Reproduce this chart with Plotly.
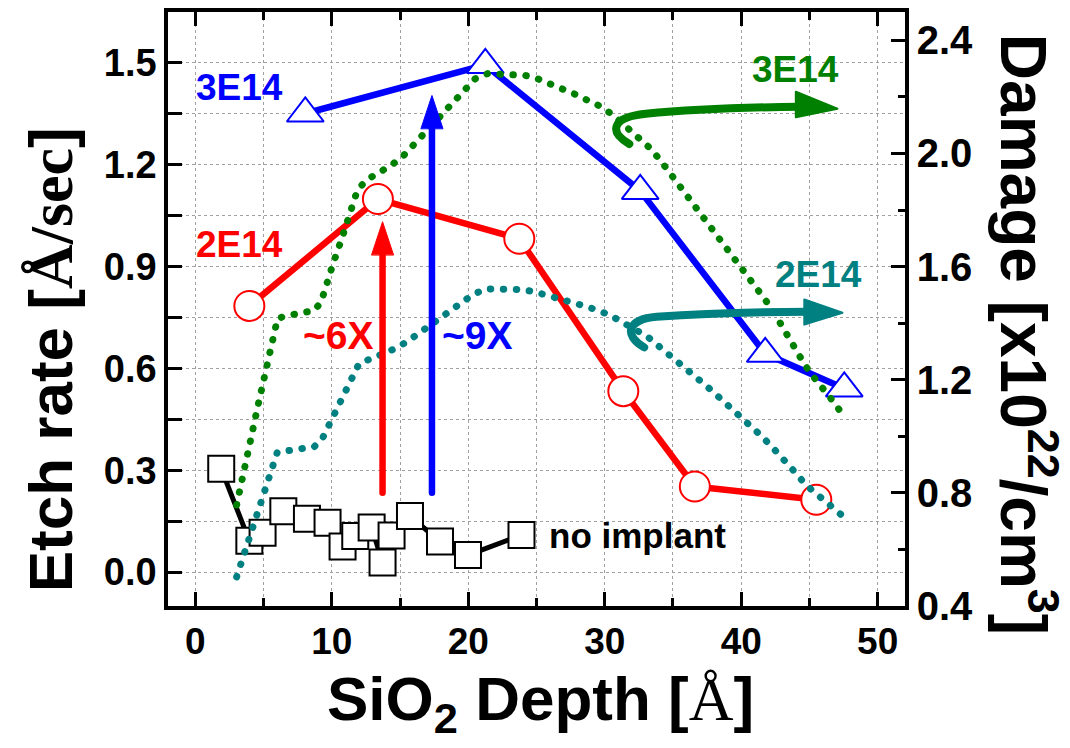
import plotly.graph_objects as go

# ---- etch rate (left axis) ----
DEPTH_3E14 = [8.06, 21.25, 32.6, 41.76, 47.55]
ETCH_3E14 = [1.351, 1.494, 1.123, 0.643, 0.541]

DEPTH_2E14 = [3.96, 13.38, 23.74, 31.36, 36.6, 45.5]
ETCH_2E14 = [0.784, 1.099, 0.982, 0.533, 0.252, 0.213]

DEPTH_NONE = [1.90, 3.96, 4.93, 6.45, 8.18, 9.69, 10.79, 11.72, 12.92, 13.72,
              14.38, 15.73, 17.93, 19.98, 23.9]
ETCH_NONE = [0.304, 0.092, 0.116, 0.179, 0.157, 0.145, 0.075, 0.106, 0.131, 0.028,
             0.108, 0.165, 0.090, 0.050, 0.109]

# ---- damage profiles (right axis) ----
DMG_DEPTH_3E14 = [3.03, 3.39, 3.83, 4.23, 4.59, 5.00, 5.40, 5.81, 6.03, 6.89, 7.79, 8.72,
                  9.21, 9.50, 10.06, 10.72, 11.33, 11.89, 12.58, 13.48, 14.41, 15.31,
                  16.21, 18.0, 18.85, 19.66, 20.51, 21.41, 22.32, 23.22, 24.15, 25.08,
                  26.0, 26.91, 27.84, 28.74, 29.67, 30.6, 31.55, 32.4, 33.31, 34.04,
                  34.78, 35.51, 36.24, 36.92, 37.6, 38.31, 38.99, 39.65, 40.34, 40.98,
                  41.63, 42.25, 42.78, 43.32, 43.88, 44.42, 44.98, 45.66, 46.45, 47.18]
DMG_3E14 = [0.757, 0.845, 0.933, 1.020, 1.108, 1.196, 1.285, 1.373, 1.417, 1.428, 1.435,
            1.445, 1.474, 1.521, 1.605, 1.697, 1.784, 1.872, 1.907, 1.933, 1.960, 1.995,
            2.040, 2.130, 2.173, 2.215, 2.264, 2.282, 2.282, 2.280, 2.276, 2.264, 2.247,
            2.229, 2.209, 2.188, 2.167, 2.136, 2.095, 2.060, 2.019, 1.978, 1.931, 1.889,
            1.843, 1.800, 1.755, 1.711, 1.668, 1.624, 1.580, 1.535, 1.491, 1.450, 1.404,
            1.360, 1.316, 1.272, 1.229, 1.184, 1.141, 1.094]

DMG_DEPTH_2E14 = [3.03, 3.32, 3.61, 3.90, 4.20, 4.49, 4.81, 5.11, 5.40, 5.71, 6.01, 6.91,
                  7.82, 8.72, 9.33, 9.77, 10.21, 10.67, 11.14, 11.55, 12.01, 12.92, 13.85,
                  14.78, 15.68, 16.61, 17.56, 18.44, 19.39, 20.31, 21.25, 22.15, 23.08,
                  23.98, 24.91, 25.81, 26.74, 27.64, 28.57, 29.5, 30.4, 31.3, 33.14, 34.07,
                  35.02, 35.95, 36.85, 37.78, 38.68, 39.61, 40.51, 41.44, 42.32, 43.2,
                  43.96, 44.74, 45.64, 46.57, 47.49]
DMG_2E14 = [0.503, 0.546, 0.591, 0.634, 0.678, 0.723, 0.766, 0.813, 0.854, 0.901, 0.944,
            0.950, 0.956, 0.963, 0.994, 1.039, 1.082, 1.127, 1.170, 1.215, 1.258, 1.275,
            1.295, 1.313, 1.340, 1.372, 1.404, 1.436, 1.466, 1.500, 1.521, 1.521, 1.521,
            1.519, 1.510, 1.498, 1.488, 1.477, 1.460, 1.445, 1.428, 1.403, 1.352, 1.314,
            1.278, 1.240, 1.202, 1.164, 1.126, 1.085, 1.042, 1.003, 0.959, 0.916, 0.872,
            0.828, 0.790, 0.752, 0.716]

BLUE = "#0000FF"
RED = "#FF0000"
GREEN = "#008000"
TEAL = "#008080"
SANS = "Liberation Sans, Arial, sans-serif"

fig = go.Figure()

fig.add_trace(go.Scatter(
    x=DEPTH_NONE, y=ETCH_NONE, mode="lines+markers", name="no implant",
    line=dict(color="black", width=5),
    marker=dict(symbol="square", size=26, color="white", line=dict(color="black", width=2)),
))
fig.add_trace(go.Scatter(
    x=DEPTH_2E14, y=ETCH_2E14, mode="lines+markers", name="2E14",
    line=dict(color=RED, width=6.5),
    marker=dict(symbol="circle", size=30, color="white", line=dict(color=RED, width=2)),
))
fig.add_trace(go.Scatter(
    x=DEPTH_3E14, y=ETCH_3E14, mode="lines+markers", name="3E14",
    line=dict(color=BLUE, width=6.5),
    marker=dict(symbol="triangle-up", size=32, color="white", line=dict(color=BLUE, width=2)),
))

dot_dash = "0.5px,12.5px"
fig.add_trace(go.Scatter(
    x=DMG_DEPTH_3E14, y=DMG_3E14, mode="lines", yaxis="y2", name="damage 3E14",
    line=dict(color=GREEN, width=7, dash=dot_dash),
))
fig.add_trace(go.Scatter(
    x=DMG_DEPTH_2E14, y=DMG_2E14, mode="lines", yaxis="y2", name="damage 2E14",
    line=dict(color=TEAL, width=7, dash=dot_dash),
))

# ---- vertical "enhancement" arrows: (x, start, tip, colour) ----
UP_ARROWS = [(13.72, 0.234, 1.032, RED), (17.34, 0.234, 1.404, BLUE)]
HEAD_HALF_W = 0.8     # x units
HEAD_LEN = 0.097      # etch-rate units
shapes = []
for ax_x, y0, tip, col in UP_ARROWS:
    shapes.append(dict(type="line", xref="x", yref="y", x0=ax_x, x1=ax_x, y0=y0,
                       y1=tip - HEAD_LEN + 0.01, line=dict(color=col, width=6.5)))
    shapes.append(dict(type="path", xref="x", yref="y",
                       path=f"M {ax_x - HEAD_HALF_W},{tip - HEAD_LEN} L {ax_x},{tip} "
                            f"L {ax_x + HEAD_HALF_W},{tip - HEAD_LEN} Z",
                       fillcolor=col, line=dict(color=col, width=1)))

# ---- hooked arrows pointing to the right-hand (damage) axis ----
HOOKS = [
    (GREEN, "M 31.8,1.261 C 30.2,1.30 30.6,1.34 33.0,1.350 Q 37.5,1.368 44.4,1.371",
     (47.05, 1.365), (44.0, 1.415), (44.0, 1.340)),
    (TEAL, "M 32.89,0.662 C 31.3,0.70 31.7,0.745 33.8,0.752 Q 38.5,0.765 44.9,0.767",
     (47.42, 0.764), (44.62, 0.803), (44.62, 0.729)),
]
for col, p, tip, b1, b2 in HOOKS:
    shapes.append(dict(type="path", xref="x", yref="y", path=p,
                       line=dict(color=col, width=8)))
    shapes.append(dict(type="path", xref="x", yref="y",
                       path=f"M {b1[0]},{b1[1]} L {tip[0]},{tip[1]} L {b2[0]},{b2[1]} Z",
                       fillcolor=col, line=dict(color=col, width=2)))
fig.update_layout(shapes=shapes)

# ---- text labels ----
LABELS = [
    ("3E14", 3.27, 1.427, BLUE, 37, "center"),
    ("2E14", 3.25, 0.964, RED, 37, "center"),
    ("~6X", 10.48, 0.696, RED, 39, "center"),
    ("~9X", 20.66, 0.696, BLUE, 39, "center"),
    ("3E14", 44.0, 1.480, GREEN, 37, "center"),
    ("2E14", 45.69, 0.878, TEAL, 37, "center"),
    ("no implant", 25.8, 0.108, "black", 35, "left"),
]
for txt, lx, ly, col, size, anchor in LABELS:
    fig.add_annotation(x=lx, y=ly, xref="x", yref="y", text=txt, showarrow=False,
                       xanchor=anchor, yanchor="middle",
                       font=dict(family=SANS, size=size, color=col, weight="bold"))

# ---- axis titles ----
fig.add_annotation(
    xref="paper", yref="paper", x=0.505, y=-0.095, xanchor="center", yanchor="top",
    showarrow=False,
    text="SiO<sub>2</sub> Depth [<span style='font-family:Liberation Serif;font-weight:normal'>Å</span>]",
    font=dict(family=SANS, size=62, color="black", weight="bold"),
)
fig.add_annotation(
    xref="paper", yref="paper", x=-0.159, y=0.415, xanchor="center", yanchor="middle",
    showarrow=False, textangle=-90,
    text="Etch rate [<span style='font-family:Liberation Serif'>Å/sec</span>]",
    font=dict(family=SANS, size=62, color="black", weight="bold"),
)
fig.add_annotation(
    xref="paper", yref="paper", x=1.167, y=0.458, xanchor="center", yanchor="middle",
    showarrow=False, textangle=90,
    text="Damage [x10<sup>22</sup>/cm<sup>3</sup>]",
    font=dict(family=SANS, size=64, color="black", weight="bold"),
)

GRID = dict(showgrid=True, gridcolor="#a0a0a0", gridwidth=1, griddash="dot")
fig.update_layout(
    width=1070, height=748,
    margin=dict(l=168, r=165, t=8, b=142),
    paper_bgcolor="white", plot_bgcolor="white",
    showlegend=False,
    xaxis=dict(
        range=[-2, 52], tick0=0, dtick=10, ticks="inside", ticklen=14, tickwidth=3,
        tickcolor="black", showline=True, linecolor="black", linewidth=3.5,
        mirror="ticks", zeroline=False,
        tickfont=dict(family=SANS, size=37, color="black", weight="bold"),
        minor=dict(dtick=5, ticks="inside", ticklen=8, tickwidth=3, tickcolor="black",
                   **GRID),
        **GRID,
    ),
    yaxis=dict(
        range=[-0.1, 1.65], tick0=0, dtick=0.3, tickformat=".1f", ticks="inside",
        ticklen=14, tickwidth=3, tickcolor="black", showline=True, linecolor="black",
        linewidth=3.5, zeroline=False,
        tickfont=dict(family=SANS, size=38, color="black", weight="bold"),
        minor=dict(dtick=0.15, ticks="inside", ticklen=14, tickwidth=3, tickcolor="black",
                   **GRID),
        **GRID,
    ),
    yaxis2=dict(
        range=[0.4, 2.5], tick0=0.4, dtick=0.4, tickformat=".1f", overlaying="y",
        side="right", ticks="inside", ticklen=14, tickwidth=3, tickcolor="black",
        showline=True, linecolor="black", linewidth=3.5, showgrid=False, zeroline=False,
        tickfont=dict(family=SANS, size=40, color="black", weight="bold"),
        minor=dict(dtick=0.2, ticks="inside", ticklen=7, tickwidth=3, tickcolor="black"),
    ),
)

# round line caps turn the short dashes into round dots
ROUND_CAPS = """
var gd = document.getElementById('{plot_id}');
gd.querySelectorAll('.scatterlayer .js-line, .shapelayer path').forEach(function(p){
  p.style.strokeLinecap = 'round';
  p.style.strokeLinejoin = 'round';
});
"""
fig.write_html("out.html", post_script=ROUND_CAPS)
